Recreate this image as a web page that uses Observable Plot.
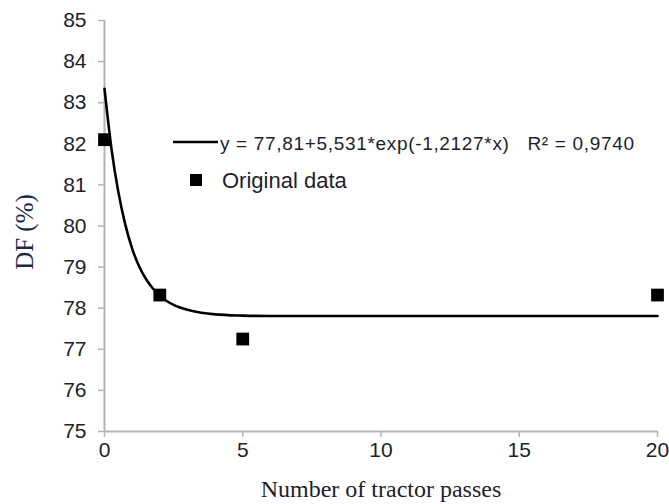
<!DOCTYPE html>
<html>
<head>
<meta charset="utf-8">
<script src="https://cdn.jsdelivr.net/npm/d3@7"></script>
<script src="https://cdn.jsdelivr.net/npm/@observablehq/plot@0.6"></script>
<style>
  html, body { margin: 0; padding: 0; background: #fff; }
  #wrap { position: relative; width: 669px; height: 504px; }
  #legend { position: absolute; left: 0; top: 0; pointer-events: none; }
</style>
</head>
<body>
<div id="wrap"></div>
<script>
// Observed data (tractor passes vs DF %)
const passes = [0, 2, 5, 20];
const dfValues = [82.1, 78.32, 77.25, 78.32];

// Fitted curve at sample positions
const curveX = [0, 0.25, 0.5, 0.75, 1, 1.25, 1.5, 1.75, 2, 2.5, 3, 3.5, 4, 5, 6, 8, 10, 15, 20];
const curveY = [83.34, 81.89, 80.83, 80.04, 79.45, 79.02, 78.71, 78.48, 78.30, 78.08, 77.96, 77.89, 77.85, 77.82, 77.81, 77.81, 77.81, 77.81, 77.81];

const xTicks = [0, 5, 10, 15, 20];
const yTicks = [75, 76, 77, 78, 79, 80, 81, 82, 83, 84, 85];

const equationLabel = "y = 77,81+5,531*exp(-1,2127*x)   R\u00B2 = 0,9740";
const pointsLabel = "Original data";
const xTitle = "Number of tractor passes";
const yTitle = "DF (%)";

const points = passes.map((x, i) => ({x, y: dfValues[i]}));
const curve = curveX.map((x, i) => ({x, y: curveY[i]}));

const textColor = "#1e1e2a";
const axisGray = "#b5b5b5";

const chart = Plot.plot({
  width: 669,
  height: 504,
  marginLeft: 104,
  marginRight: 12,
  marginTop: 20,
  marginBottom: 73,
  style: {background: "#fff", overflow: "visible"},
  x: {domain: [0, 20]},
  y: {domain: [75, 85]},
  marks: [
    Plot.ruleX([0], {stroke: axisGray, strokeWidth: 2}),
    Plot.ruleY([75], {stroke: axisGray, strokeWidth: 2}),
    Plot.axisY({ticks: yTicks, tickSize: 6, tickPadding: 12, stroke: axisGray, strokeWidth: 1.5,
      fontSize: 21, fontFamily: "Liberation Sans, Arial, sans-serif", fill: textColor, label: null}),
    Plot.axisX({ticks: xTicks, tickSize: 6, tickPadding: 5, stroke: axisGray, strokeWidth: 1.5,
      fontSize: 21, fontFamily: "Liberation Sans, Arial, sans-serif", fill: textColor, label: null}),
    Plot.line(curve, {x: "x", y: "y", stroke: "#000", strokeWidth: 2.6, curve: "monotone-x"}),
    Plot.dot(points, {x: "x", y: "y", symbol: "square", r: 7.2, fill: "#000", stroke: "none"}),
    Plot.text([yTitle], {frameAnchor: "left", textAnchor: "middle", text: d => d, rotate: -90, dx: -80, dy: 6,
      fontSize: 25, fontFamily: "Liberation Serif, Times New Roman, serif", fill: "#1b2a4a"}),
    Plot.text([xTitle], {frameAnchor: "bottom", text: d => d, dy: 65,
      fontSize: 24, fontFamily: "Liberation Serif, Times New Roman, serif", fill: textColor})
  ]
});

const wrap = document.getElementById("wrap");
wrap.appendChild(chart);

// Legend overlay
const ns = "http://www.w3.org/2000/svg";
const leg = document.createElementNS(ns, "svg");
leg.setAttribute("id", "legend");
leg.setAttribute("width", 669);
leg.setAttribute("height", 504);
leg.innerHTML = `
  <line x1="173" x2="218" y1="142" y2="142" stroke="#000" stroke-width="2.6"/>
  <text x="220" y="150" font-family="Liberation Sans, Arial, sans-serif" font-size="19" fill="${textColor}"
        textLength="414" lengthAdjust="spacing" xml:space="preserve"></text>
  <rect x="190" y="174" width="12" height="12" fill="#000"/>
  <text x="222" y="188" font-family="Liberation Sans, Arial, sans-serif" font-size="22" fill="${textColor}"></text>
`;
const texts = leg.querySelectorAll("text");
texts[0].textContent = equationLabel;
texts[1].textContent = pointsLabel;
wrap.appendChild(leg);
</script>
</body>
</html>
